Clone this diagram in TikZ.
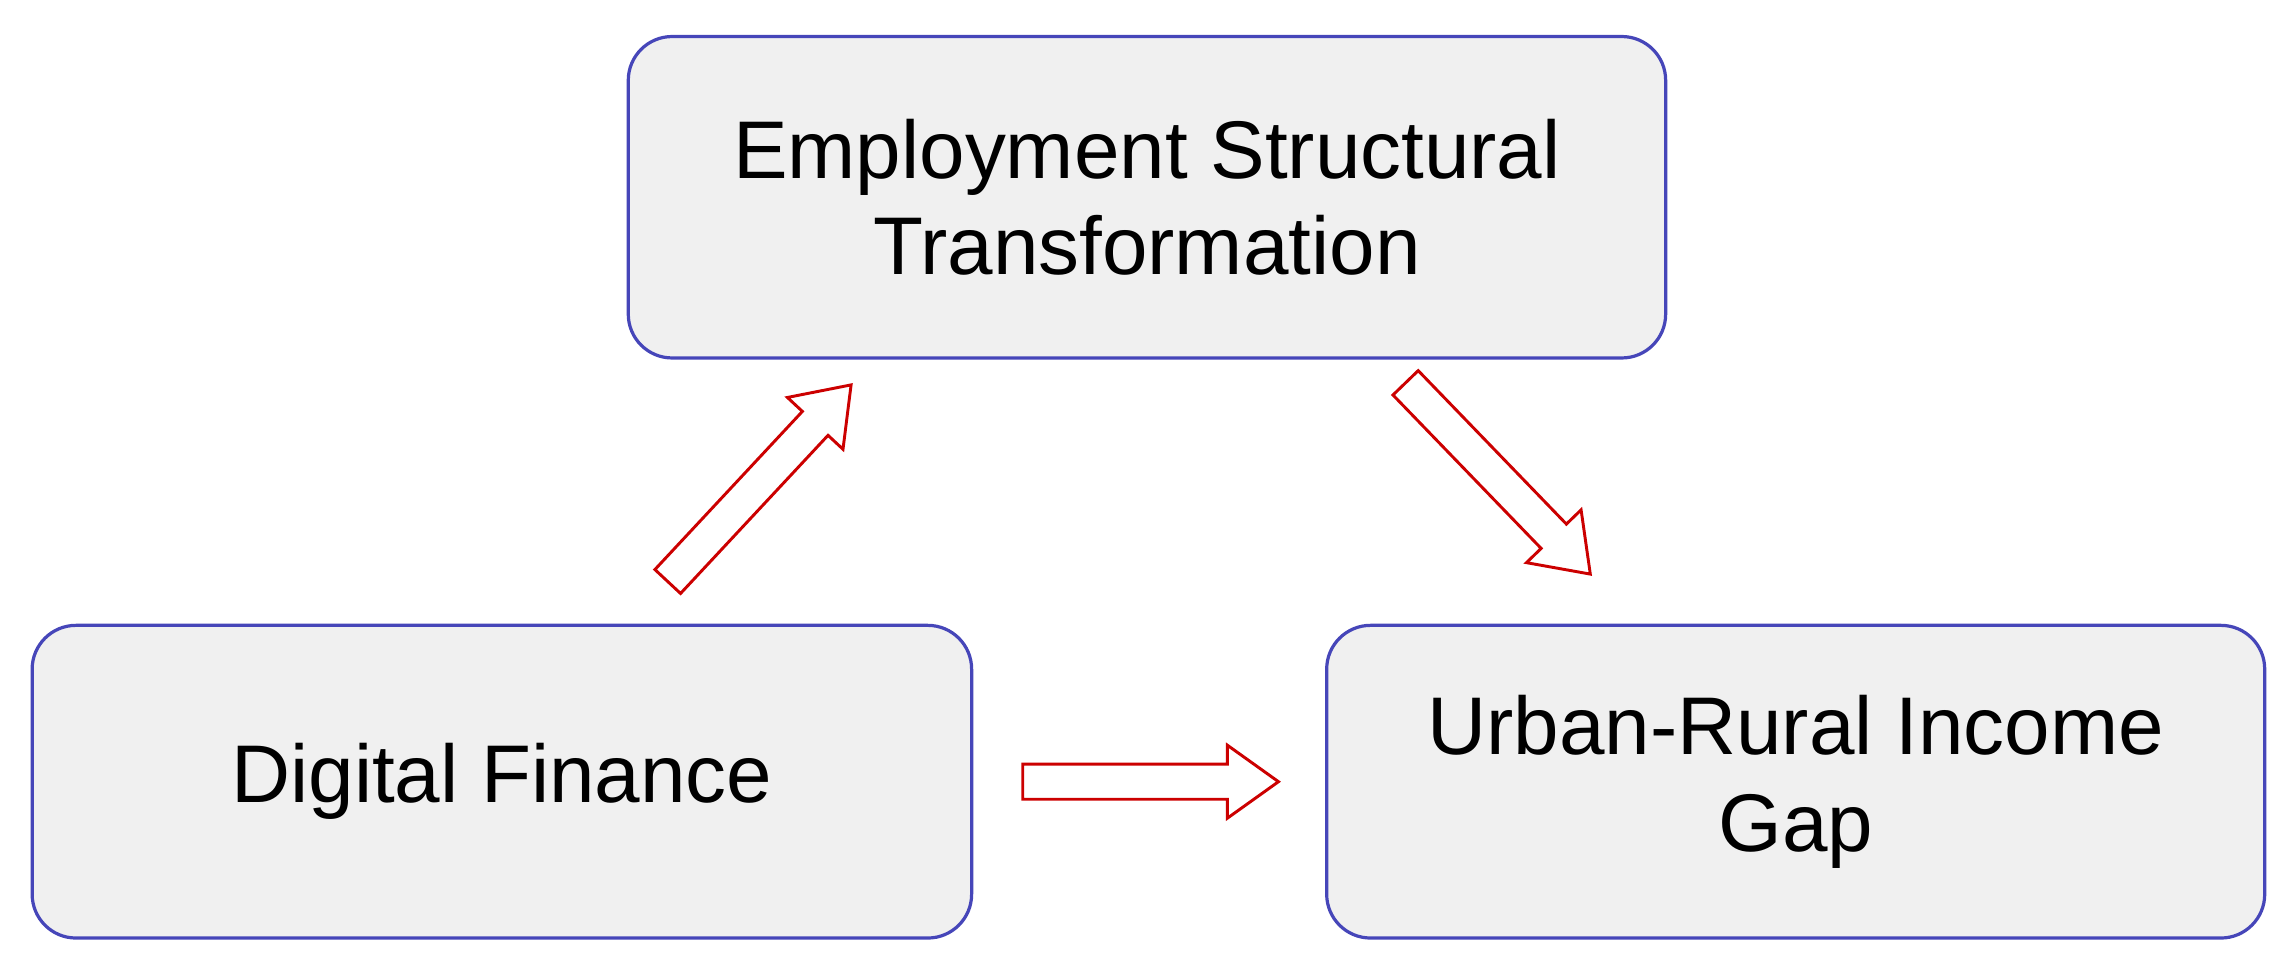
\documentclass[tikz,border=0pt]{standalone}
\usepackage{fontspec}
\setmainfont{Liberation Sans}
\begin{document}
\begin{tikzpicture}[x=1pt,y=-1pt,
  box/.style={draw=blue!45!gray, line width=2.2pt, fill=gray!12, rounded corners=30pt,
    minimum width=#1, align=center, font=\fontsize{56}{66}\selectfont, inner sep=0pt},
  blk/.style={draw=red!80!black, line width=2pt, fill=white, line join=miter}]
\useasboundingbox (0,0) rectangle (1568,663);
\node[box=710pt, minimum height=220pt] (est) at (785,135) {Employment Structural\\Transformation};
\node[box=643pt, minimum height=214pt] (df) at (343.5,535) {Digital Finance};
\node[box=642pt, minimum height=214pt] (urg) at (1229,535) {Urban-Rural Income\\Gap};
\coordinate (s1) at (457,398);
\coordinate (s2) at (962,262);
\coordinate (s3) at (700,535);
\draw[blk, shift={(s1)}, rotate=47] (0,-12) -- (148,-12) -- (148,-26) -- (184,0) -- (148,26) -- (148,12) -- (0,12) -- cycle;
\draw[blk, shift={(s2)}, rotate=-46] (0,-12) -- (146,-12) -- (146,-26) -- (182,0) -- (146,26) -- (146,12) -- (0,12) -- cycle;
\draw[blk, shift={(s3)}] (0,-12) -- (140,-12) -- (140,-25) -- (175,0) -- (140,25) -- (140,12) -- (0,12) -- cycle;
\end{tikzpicture}
\end{document}
